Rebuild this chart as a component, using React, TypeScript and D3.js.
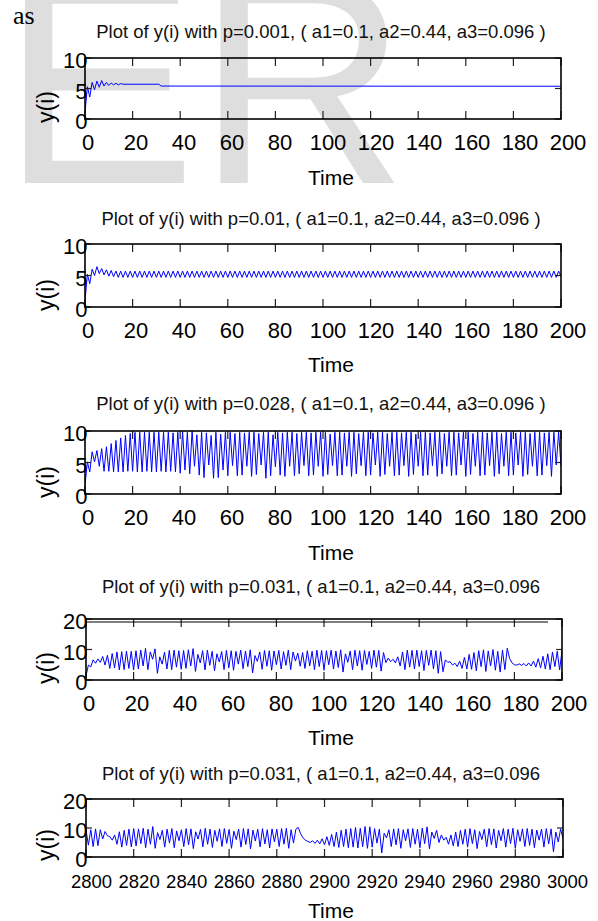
import React from 'react';
import * as d3 from 'd3';

// titles of the five subplots
const TITLES = [
  'Plot of y(i) with p=0.001, ( a1=0.1, a2=0.44, a3=0.096 )',
  'Plot of y(i) with p=0.01, ( a1=0.1, a2=0.44, a3=0.096 )',
  'Plot of y(i) with p=0.028, ( a1=0.1, a2=0.44, a3=0.096 )',
  'Plot of y(i) with p=0.031, ( a1=0.1, a2=0.44, a3=0.096',
  'Plot of y(i) with p=0.031, ( a1=0.1, a2=0.44, a3=0.096',
];

const X_TICKS_A = [0, 20, 40, 60, 80, 100, 120, 140, 160, 180, 200];
const X_TICKS_B = [2800, 2820, 2840, 2860, 2880, 2900, 2920, 2940, 2960, 2980, 3000];
const Y_TICKS_10 = [0, 5, 10];
const Y_TICKS_20 = [0, 10, 20];

// p=0.001 : vertices (time, y)
const Y_P001: [number, number][] = [
  [0, 1.0], [1, 5.3], [2, 3.6], [3, 6.0], [4, 4.8], [5, 6.2], [6, 5.2], [7, 6.3],
  [8, 5.4], [9, 6.0], [10, 5.5], [11, 5.9], [12, 5.6], [13, 5.85], [14, 5.6],
  [15, 5.8], [16, 5.7], [31, 5.7], [32, 5.4], [200, 5.37],
];

// p=0.01 : y(i), i = 0..200 (rows of 20)
const Y_P01 = [
  1.0, 5.2, 3.7, 6.0, 5.0, 6.4, 5.3, 6.1, 5.1, 5.9, 4.9, 5.8, 4.8, 5.7, 4.7, 5.7, 4.7, 5.7, 4.7, 5.7,
  4.7, 5.7, 4.7, 5.7, 4.7, 5.7, 4.7, 5.7, 4.7, 5.7, 4.7, 5.7, 4.7, 5.7, 4.7, 5.7, 4.7, 5.7, 4.7, 5.7,
  4.7, 5.7, 4.7, 5.7, 4.7, 5.7, 4.7, 5.7, 4.7, 5.7, 4.7, 5.7, 4.7, 5.7, 4.7, 5.7, 4.7, 5.7, 4.7, 5.7,
  4.7, 5.7, 4.7, 5.7, 4.7, 5.7, 4.7, 5.7, 4.7, 5.7, 4.7, 5.7, 4.7, 5.7, 4.7, 5.7, 4.7, 5.7, 4.7, 5.7,
  4.7, 5.7, 4.7, 5.7, 4.7, 5.7, 4.7, 5.7, 4.7, 5.7, 4.7, 5.7, 4.7, 5.7, 4.7, 5.7, 4.7, 5.7, 4.7, 5.7,
  4.7, 5.7, 4.7, 5.7, 4.7, 5.7, 4.7, 5.7, 4.7, 5.7, 4.7, 5.7, 4.7, 5.7, 4.7, 5.7, 4.7, 5.7, 4.7, 5.7,
  4.7, 5.7, 4.7, 5.7, 4.7, 5.7, 4.7, 5.7, 4.7, 5.7, 4.7, 5.7, 4.7, 5.7, 4.7, 5.7, 4.7, 5.7, 4.7, 5.7,
  4.7, 5.7, 4.7, 5.7, 4.7, 5.7, 4.7, 5.7, 4.7, 5.7, 4.7, 5.7, 4.7, 5.7, 4.7, 5.7, 4.7, 5.7, 4.7, 5.7,
  4.7, 5.7, 4.7, 5.7, 4.7, 5.7, 4.7, 5.7, 4.7, 5.7, 4.7, 5.7, 4.7, 5.7, 4.7, 5.7, 4.7, 5.7, 4.7, 5.7,
  4.7, 5.7, 4.7, 5.7, 4.7, 5.7, 4.7, 5.7, 4.7, 5.7, 4.7, 5.7, 4.7, 5.7, 4.7, 5.7, 4.7, 5.7, 4.7, 5.7,
  4.9,
];

// p=0.028 : y(i), i = 0..200
const Y_P028 = [
  1.4, 5.1, 3.5, 6.7, 5.1, 6.9, 4.4, 7.2, 3.6, 7.5, 3.6, 8.0, 3.5, 8.5, 3.5, 8.9, 3.5, 9.3, 3.6, 9.6,
  3.6, 9.8, 3.5, 9.8, 3.5, 9.8, 3.6, 9.8, 3.5, 9.8, 3.5, 9.8, 3.6, 9.8, 3.5, 9.8, 3.6, 9.7, 3.5, 9.8,
  3.3, 9.9, 3.8, 9.8, 3.2, 10.0, 4.4, 9.4, 3.0, 9.8, 2.6, 9.7, 4.6, 9.3, 2.5, 9.8, 2.6, 9.5, 3.8, 9.8,
  2.9, 9.8, 4.5, 9.6, 2.9, 9.8, 3.0, 9.7, 4.4, 9.8, 2.8, 9.8, 3.1, 9.6, 4.6, 9.8, 2.5, 9.8, 2.9, 9.4,
  4.3, 9.8, 3.0, 9.7, 2.8, 9.8, 4.4, 9.8, 2.9, 9.6, 3.2, 9.8, 4.5, 9.8, 2.9, 9.7, 3.0, 9.8, 4.4, 9.8,
  2.8, 9.8, 3.1, 9.5, 4.5, 9.8, 2.9, 9.8, 3.0, 9.7, 4.4, 9.8, 2.8, 9.8, 3.2, 9.6, 4.5, 9.8, 2.9, 9.8,
  3.0, 9.7, 4.6, 9.8, 2.8, 9.8, 3.1, 9.6, 4.4, 9.8, 2.9, 9.8, 3.0, 9.7, 4.5, 9.8, 2.8, 9.8, 3.1, 9.5,
  4.4, 9.8, 2.9, 9.8, 3.0, 9.7, 4.5, 9.8, 2.8, 9.8, 3.2, 9.6, 4.4, 9.8, 2.9, 9.8, 3.0, 9.7, 4.6, 9.8,
  2.8, 9.8, 3.1, 9.6, 4.4, 9.8, 2.9, 9.8, 3.0, 9.7, 4.5, 9.8, 2.8, 9.8, 3.2, 9.6, 4.4, 9.8, 2.9, 9.8,
  3.0, 9.7, 4.6, 9.8, 2.8, 9.8, 3.1, 9.6, 4.4, 9.8, 2.9, 9.8, 3.0, 9.7, 4.5, 9.8, 2.8, 9.8, 4.6, 9.8,
  4.5,
];

// p=0.031 : y(i), i = 0..200
const Y_P031 = [
  1.3, 4.9, 4.3, 6.6, 5.5, 6.9, 5.8, 7.7, 4.9, 8.1, 3.8, 8.7, 4.0, 9.2, 3.3, 9.3, 3.4, 9.5, 3.8, 9.4,
  3.3, 9.6, 3.6, 9.8, 4.6, 10.4, 3.4, 9.2, 6.8, 10.2, 2.2, 7.6, 5.2, 9.1, 3.6, 9.7, 3.4, 9.8, 4.2, 9.6,
  3.5, 9.7, 3.8, 9.9, 4.6, 10.3, 2.8, 8.4, 5.6, 9.6, 3.3, 9.8, 4.8, 9.4, 3.0, 8.6, 5.9, 9.3, 3.4, 9.7,
  4.0, 9.6, 3.2, 9.4, 5.2, 9.8, 3.7, 9.5, 4.4, 9.9, 2.3, 8.0, 6.1, 9.2, 3.5, 9.7, 4.5, 9.6, 3.2, 9.5,
  5.0, 9.7, 3.6, 9.3, 4.8, 9.8, 3.4, 9.2, 6.2, 8.8, 4.5, 9.0, 3.8, 9.6, 4.6, 9.4, 3.4, 9.8, 4.4, 9.7,
  3.2, 9.6, 5.0, 9.8, 3.6, 9.5, 4.1, 9.9, 2.6, 8.6, 5.8, 9.5, 3.4, 9.8, 4.6, 9.6, 3.2, 9.7, 5.1, 9.4,
  3.8, 9.8, 4.2, 9.7, 2.9, 9.0, 5.7, 7.2, 6.0, 6.8, 5.6, 7.6, 4.6, 9.2, 3.4, 9.8, 4.2, 9.7, 3.6, 9.8,
  4.4, 9.6, 3.1, 9.7, 4.8, 9.8, 3.6, 9.6, 2.2, 9.3, 2.7, 6.6, 5.8, 6.0, 4.9, 5.5, 4.4, 6.2, 3.8, 7.4,
  3.6, 8.4, 3.5, 9.0, 3.0, 9.6, 4.4, 9.9, 2.8, 9.5, 4.6, 10.0, 3.2, 9.4, 2.6, 9.8, 3.4, 10.4, 7.0, 5.6,
  5.0, 4.9, 5.3, 4.8, 5.4, 4.6, 5.6, 4.6, 6.2, 4.2, 7.0, 4.0, 7.8, 3.6, 8.6, 3.4, 9.2, 4.4, 9.4, 3.3,
  9.7,
];

// p=0.031, late window : y(i), i = 2800..3000
const Y_P031_LATE = [
  9.3, 4.1, 9.4, 3.6, 9.7, 3.9, 9.4, 6.2, 8.8, 7.3, 7.0, 5.8, 7.6, 4.4, 8.7, 3.4, 9.2, 4.0, 9.6, 3.5,
  9.8, 3.8, 9.7, 4.6, 9.9, 3.2, 9.6, 4.4, 10.5, 3.0, 8.4, 6.0, 9.2, 3.4, 9.6, 4.8, 9.8, 3.2, 9.0, 5.6,
  9.4, 3.6, 9.8, 4.2, 9.7, 2.9, 8.7, 6.2, 9.5, 3.5, 9.9, 4.4, 9.6, 3.3, 9.2, 5.4, 9.7, 3.6, 9.8, 4.7,
  9.5, 3.0, 8.9, 6.0, 9.6, 3.4, 9.8, 4.3, 9.7, 2.8, 9.3, 5.5, 9.6, 3.5, 9.8, 4.5, 9.4, 3.1, 9.7, 5.2,
  9.6, 3.6, 9.8, 4.4, 9.9, 3.0, 9.4, 4.8, 9.6, 10.2, 8.0, 6.6, 5.8, 5.4, 5.0, 5.6, 4.7, 5.8, 4.5, 6.3,
  4.2, 7.0, 4.0, 7.8, 3.6, 8.6, 3.3, 9.2, 3.6, 9.6, 3.2, 9.8, 3.4, 10.2, 3.1, 9.9, 3.5, 10.5, 3.0, 10.4,
  3.4, 9.8, 4.8, 9.6, 1.4, 8.2, 6.6, 9.4, 3.6, 9.7, 4.2, 9.8, 3.0, 9.4, 5.6, 9.7, 3.3, 9.8, 4.4, 9.6,
  3.2, 10.0, 4.6, 10.4, 2.8, 8.6, 6.4, 9.2, 5.0, 7.6, 5.8, 6.8, 4.4, 7.6, 3.8, 8.6, 3.6, 9.2, 4.4, 9.6,
  3.4, 9.8, 4.6, 9.4, 2.9, 8.8, 6.0, 9.6, 3.5, 9.8, 4.2, 9.7, 3.1, 9.2, 5.6, 9.8, 3.4, 9.6, 4.6, 9.9,
  3.0, 9.4, 5.4, 9.7, 3.6, 9.8, 4.0, 9.6, 3.2, 9.3, 5.8, 9.6, 3.4, 9.8, 4.5, 9.7, 1.8, 8.6, 5.2, 9.7,
  6.2,
];

const toPoints = (vals: number[], t0: number): [number, number][] =>
  vals.map((v, i) => [t0 + i, v]);

const SANS = 'Liberation Sans, Arial, sans-serif';

// subplot boxes (pixels)
const LAYOUT = [
  { left: 85, right: 561, top: 58, bottom: 119, titleY: 38, timeY: 185, lab: [3, 7], xFont: 22 },
  { left: 85, right: 561, top: 244, bottom: 307, titleY: 225, timeY: 372, lab: [3, 7], xFont: 22 },
  { left: 85, right: 561, top: 431, bottom: 494, titleY: 410, timeY: 560, lab: [3, 7], xFont: 22 },
  { left: 86, right: 562, top: 619, bottom: 680, titleY: 593, timeY: 745, lab: [3, 7], xFont: 22, extraTop: 622 },
  { left: 86, right: 563, top: 799, bottom: 857, titleY: 780, timeY: 918, lab: [5.5, 4.5], xFont: 18.5 },
];

const PANELS = [
  { data: Y_P001, xDomain: [0, 200], yDomain: [0, 10], xTicks: X_TICKS_A, yTicks: Y_TICKS_10 },
  { data: toPoints(Y_P01, 0), xDomain: [0, 200], yDomain: [0, 10], xTicks: X_TICKS_A, yTicks: Y_TICKS_10 },
  { data: toPoints(Y_P028, 0), xDomain: [0, 200], yDomain: [0, 10], xTicks: X_TICKS_A, yTicks: Y_TICKS_10 },
  { data: toPoints(Y_P031, 0), xDomain: [0, 200], yDomain: [0, 20], xTicks: X_TICKS_A, yTicks: Y_TICKS_20 },
  { data: toPoints(Y_P031_LATE, 2800), xDomain: [2800, 3000], yDomain: [0, 20], xTicks: X_TICKS_B, yTicks: Y_TICKS_20 },
];

function Panel({ idx }: { idx: number }) {
  const L: any = LAYOUT[idx];
  const P = PANELS[idx];
  const x = d3.scaleLinear().domain(P.xDomain).range([L.left, L.right]);
  const y = d3.scaleLinear().domain(P.yDomain).range([L.bottom, L.top]);
  // tick labels sit on a slightly wider spacing than the ticks themselves
  const xl = x.copy().range([L.left + L.lab[0], L.right + L.lab[1]]);
  const line = d3.line<[number, number]>().x(d => x(d[0])).y(d => y(d[1]));
  const clipId = `clip${idx}`;
  const midY = L.bottom - 12;

  return (
    <g>
      <defs>
        <clipPath id={clipId}>
          <rect x={L.left} y={L.top} width={L.right - L.left} height={L.bottom - L.top} />
        </clipPath>
      </defs>
      <text x={321} y={L.titleY} textAnchor="middle" fontFamily={SANS} fontSize={18.5} fill="#111">
        {TITLES[idx]}
      </text>
      <path d={line(P.data) || ''} fill="none" stroke="#0000ff" strokeWidth={1} clipPath={`url(#${clipId})`} />
      {P.xTicks.map(t => (
        <g key={`xt${t}`}>
          <line x1={x(t)} x2={x(t)} y1={L.bottom} y2={L.bottom - 8} stroke="#222" strokeWidth={1.2} />
          <line x1={x(t)} x2={x(t)} y1={L.top} y2={L.top + 8} stroke="#222" strokeWidth={1.2} />
          <text x={xl(t)} y={L.bottom + 31} textAnchor="middle" fontFamily={SANS} fontSize={L.xFont} fill="#000">
            {t}
          </text>
        </g>
      ))}
      {P.yTicks.map(t => (
        <g key={`yt${t}`}>
          <line x1={L.left} x2={L.left + 6} y1={y(t)} y2={y(t)} stroke="#222" strokeWidth={1.2} />
          <line x1={L.right} x2={L.right - 6} y1={y(t)} y2={y(t)} stroke="#222" strokeWidth={1.2} />
          <text x={87.5} y={y(t) + 2.5} dy="0.35em" textAnchor="end" fontFamily={SANS} fontSize={22} fill="#000">
            {t}
          </text>
        </g>
      ))}
      <rect x={L.left} y={L.top} width={L.right - L.left} height={L.bottom - L.top}
        fill="none" stroke="#000" strokeWidth={1.6} />
      {L.extraTop && (
        <line x1={L.left} x2={548} y1={L.extraTop} y2={L.extraTop} stroke="#000" strokeWidth={1.2} />
      )}
      <text transform={`translate(54,${midY}) rotate(-90)`} textAnchor="middle" fontFamily={SANS} fontSize={23} fill="#000">
        y(i)
      </text>
      <text x={331} y={L.timeY} textAnchor="middle" fontFamily={SANS} fontSize={21} fill="#000">
        Time
      </text>
    </g>
  );
}

export default function App() {
  return (
    <svg width={598} height={921} style={{ position: 'absolute', left: 0, top: 0, background: '#fff' }}>
      <rect width={598} height={921} fill="#fff" />
      {/* watermark behind the figure */}
      <text x={1} y={183} fontFamily={SANS} fontSize={293} fill="#dedede">ER</text>
      <text x={13} y={24} fontFamily="Liberation Serif, Times New Roman, serif" fontSize={26} fill="#000">as</text>
      {PANELS.map((_, i) => <Panel key={i} idx={i} />)}
    </svg>
  );
}
